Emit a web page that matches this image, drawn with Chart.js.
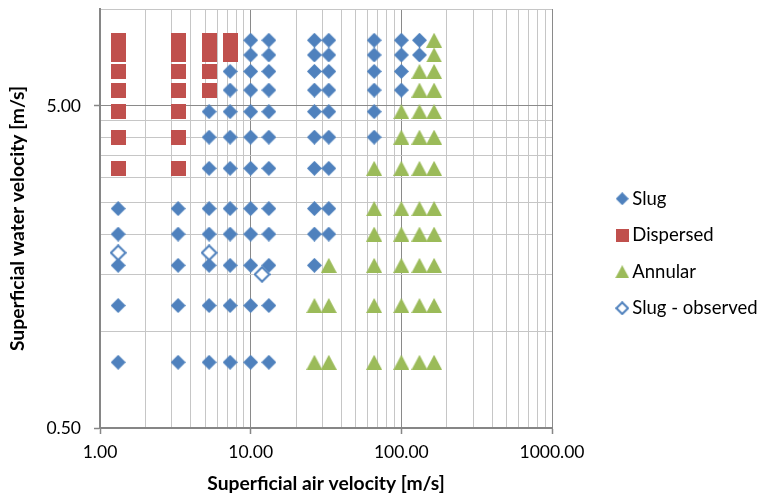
<!DOCTYPE html>
<html>
<head>
<meta charset="utf-8">
<title>Flow regime map</title>
<script src="https://cdn.jsdelivr.net/npm/chart.js@4/dist/chart.umd.min.js"></script>
<style>
  html, body { margin: 0; padding: 0; background: #ffffff; }
  #wrap { width: 763px; height: 502px; }
</style>
</head>
<body>
<div id="wrap"><canvas id="chart" width="763" height="502"></canvas></div>
<script>
// Superficial air velocity of each measurement column [m/s]
const airVelocity = [1.32, 3.3, 5.3, 7.3, 10, 13.2, 26.5, 33, 66, 100, 132, 165];

// Superficial water velocities [m/s] per air-velocity column, one list per regime
const slugWater = [
  [2.4, 2.0, 1.6, 1.2, 0.8],
  [2.4, 2.0, 1.6, 1.2, 0.8],
  [4.8, 4.0, 3.2, 2.4, 2.0, 1.6, 1.2, 0.8],
  [6.4, 5.6, 4.8, 4.0, 3.2, 2.4, 2.0, 1.6, 1.2, 0.8],
  [8.0, 7.2, 6.4, 5.6, 4.8, 4.0, 3.2, 2.4, 2.0, 1.6, 1.2, 0.8],
  [8.0, 7.2, 6.4, 5.6, 4.8, 4.0, 3.2, 2.4, 2.0, 1.6, 1.2, 0.8],
  [8.0, 7.2, 6.4, 5.6, 4.8, 4.0, 3.2, 2.4, 2.0, 1.6],
  [8.0, 7.2, 6.4, 5.6, 4.8, 4.0, 3.2, 2.4, 2.0],
  [8.0, 7.2, 6.4, 5.6, 4.8, 4.0],
  [8.0, 7.2, 6.4, 5.6],
  [8.0, 7.2],
  []
];
const dispersedWater = [
  [8.0, 7.2, 6.4, 5.6, 4.8, 4.0, 3.2],
  [8.0, 7.2, 6.4, 5.6, 4.8, 4.0, 3.2],
  [8.0, 7.2, 6.4, 5.6],
  [8.0, 7.2],
  [], [], [], [], [], [], [], []
];
const annularWater = [
  [], [], [], [], [], [],
  [1.2, 0.8],
  [1.6, 1.2, 0.8],
  [3.2, 2.4, 2.0, 1.6, 1.2, 0.8],
  [4.8, 4.0, 3.2, 2.4, 2.0, 1.6, 1.2, 0.8],
  [6.4, 5.6, 4.8, 4.0, 3.2, 2.4, 2.0, 1.6, 1.2, 0.8],
  [8.0, 7.2, 6.4, 5.6, 4.8, 4.0, 3.2, 2.4, 2.0, 1.6, 1.2, 0.8]
];

// Visually observed slug flow
const observedAir = [1.32, 5.3, 11.9];
const observedWater = [1.75, 1.75, 1.5];

// Axis ticks (log axes, labelled only at the major values)
const xTickValues = [1, 2, 3, 4, 5, 6, 7, 8, 9, 10, 20, 30, 40, 50, 60, 70, 80, 90,
                     100, 200, 300, 400, 500, 600, 700, 800, 900, 1000];
const xMajorTicks = [1, 10, 100, 1000];
const yTickValues = [0.5, 1, 1.5, 2, 2.5, 3, 3.5, 4, 4.5, 5, 10];
const yMajorTicks = [0.5, 5];

const seriesNames = ['Slug', 'Dispersed', 'Annular', 'Slug - observed'];

// ---- layout / style ----
const PLOT_RIGHT = 552;
const FONT = 'Lato';
const BLUE = '#4F81BD', RED = '#C0504D', GREEN = '#9BBB59';
const GRID_MINOR = '#c6c6c6', GRID_MAJOR = '#8a8a8a', AXIS = '#868686';

function toPoints(waterByColumn) {
  return waterByColumn.flatMap((list, i) => list.map(w => ({ x: airVelocity[i], y: w })));
}

function makeMarker(shape, w, h, color, hollow) {
  const c = document.createElement('canvas');
  c.width = w; c.height = h;
  const g = c.getContext('2d');
  const m = hollow ? 1.2 : 0;
  g.beginPath();
  if (shape === 'diamond') {
    g.moveTo(w / 2, m); g.lineTo(w - m, h / 2); g.lineTo(w / 2, h - m); g.lineTo(m, h / 2);
  } else if (shape === 'square') {
    g.rect(0, 0, w, h);
  } else {
    g.moveTo(w / 2, 0); g.lineTo(w, h); g.lineTo(0, h);
  }
  g.closePath();
  if (hollow) {
    g.fillStyle = '#ffffff'; g.fill();
    g.lineWidth = 2; g.strokeStyle = color; g.lineJoin = 'miter'; g.stroke();
  } else {
    g.fillStyle = color; g.fill();
  }
  return c;
}

const pointMarkers = [
  makeMarker('diamond', 15, 15, BLUE),
  makeMarker('square', 15, 15, RED),
  makeMarker('triangle', 16, 15, GREEN),
  makeMarker('diamond', 17, 17, BLUE, true)
];
const legendMarkers = [
  makeMarker('diamond', 13, 13, BLUE),
  makeMarker('square', 13, 13, RED),
  makeMarker('triangle', 14, 13, GREEN),
  makeMarker('diamond', 14, 14, BLUE, true)
];

const isIn = (list, v) => list.some(t => Math.abs(t - v) < 1e-9);
const majorLabel = list => v => isIn(list, v) ? Number(v).toFixed(2) : '';

function drawChart() {
  const observed = observedAir.map((x, i) => ({ x, y: observedWater[i] }));
  const datasets = [toPoints(slugWater), toPoints(dispersedWater), toPoints(annularWater), observed]
    .map((data, i) => ({
      label: seriesNames[i],
      data,
      pointStyle: pointMarkers[i],
      pointRadius: 8,
      pointHoverRadius: 8,
      backgroundColor: [BLUE, RED, GREEN, '#ffffff'][i],
      borderColor: [BLUE, RED, GREEN, BLUE][i],
      order: i === 3 ? 0 : 1
    }));

  new Chart(document.getElementById('chart'), {
    type: 'scatter',
    data: { datasets },
    options: {
      responsive: false,
      animation: false,
      devicePixelRatio: 1,
      layout: { padding: { top: 5, right: 0, bottom: 0, left: 0 } },
      plugins: {
        tooltip: { enabled: false },
        legend: {
          position: 'right',
          align: 'center',
          maxWidth: 159.5,
          labels: {
            usePointStyle: true,
            pointStyleWidth: 1.5,
            padding: 18,
            color: '#000000',
            font: { family: FONT, size: 18.5 },
            generateLabels: chart => chart.data.datasets.map((ds, i) => ({
              text: ds.label,
              pointStyle: legendMarkers[i],
              datasetIndex: i,
              hidden: false,
              fillStyle: ds.backgroundColor,
              strokeStyle: ds.borderColor,
              lineWidth: 0,
              fontColor: '#000000'
            }))
          }
        }
      },
      scales: {
        x: {
          type: 'logarithmic',
          min: 1,
          max: 1000,
          afterBuildTicks: s => { s.ticks = xTickValues.map(v => ({ value: v })); },
          afterFit: s => { s.height = 74; s.paddingLeft = 0; s.paddingRight = 0; },
          ticks: {
            autoSkip: false,
            maxRotation: 0,
            padding: 8,
            color: '#000000',
            font: { family: FONT, size: 17.5 },
            callback: majorLabel(xMajorTicks)
          },
          grid: {
            lineWidth: 1,
            color: c => (c.tick && isIn(xMajorTicks, c.tick.value)) ? GRID_MAJOR : GRID_MINOR,
            drawTicks: true,
            tickLength: 6,
            tickWidth: 1.5,
            tickColor: c => (c.tick && isIn(xMajorTicks, c.tick.value)) ? AXIS : 'rgba(0,0,0,0)'
          },
          border: { display: true, color: AXIS, width: 2 },
          title: {
            display: true,
            text: 'Superficial air velocity [m/s]',
            color: '#000000',
            font: { family: FONT, size: 19.3, weight: 'bold' },
            padding: { top: 0, bottom: 6.5 }
          }
        },
        y: {
          type: 'logarithmic',
          min: 0.5,
          max: 10,
          afterBuildTicks: s => { s.ticks = yTickValues.map(v => ({ value: v })); },
          afterFit: s => { s.width = 100; s.paddingTop = 0; s.paddingBottom = 0; },
          ticks: {
            autoSkip: false,
            padding: 13,
            color: '#000000',
            font: { family: FONT, size: 17.5 },
            callback: majorLabel(yMajorTicks)
          },
          grid: {
            lineWidth: 1,
            color: c => (c.tick && isIn(yMajorTicks, c.tick.value)) ? GRID_MAJOR : GRID_MINOR,
            drawTicks: true,
            tickLength: 6,
            tickWidth: 1.5,
            tickColor: c => (c.tick && isIn(yMajorTicks, c.tick.value)) ? AXIS : 'rgba(0,0,0,0)'
          },
          border: { display: true, color: AXIS, width: 2 },
          title: {
            display: true,
            text: 'Superficial water velocity [m/s]',
            color: '#000000',
            font: { family: FONT, size: 19.3, weight: 'bold' },
            padding: { top: 6.5, bottom: 0 }
          }
        },
        // empty strip between the plot and the legend
        gap: {
          type: 'linear',
          position: 'right',
          display: true,
          grid: { display: false },
          border: { display: false },
          ticks: { display: false },
          afterFit: s => { s.width = Math.max(0, s.chart.width - s.chart.legend.width - PLOT_RIGHT); }
        }
      }
    }
  });
}

Promise.all([
  document.fonts.load('17.5px ' + FONT),
  document.fonts.load('bold 19px ' + FONT)
]).then(drawChart, drawChart);
</script>
</body>
</html>
